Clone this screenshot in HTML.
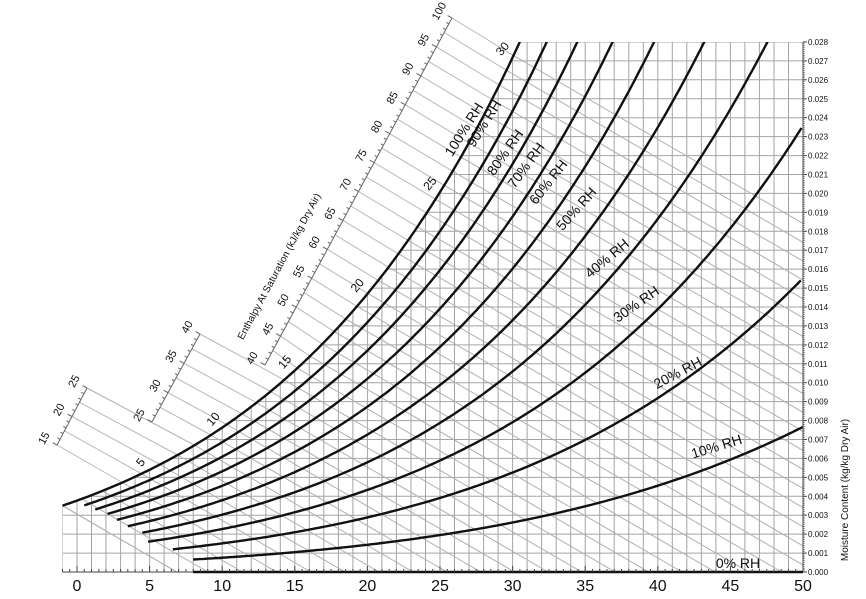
<!DOCTYPE html>
<html><head><meta charset="utf-8"><style>
html,body{margin:0;padding:0;background:#fff;}
svg{display:block;font-family:"Liberation Sans Narrow","Liberation Sans",sans-serif;}
</style></head><body>
<svg id="c" width="866" height="599" viewBox="0 0 866 599" xmlns="http://www.w3.org/2000/svg">
<defs><clipPath id="reg"><polygon id="regpoly" points="0,0"/></clipPath>
<clipPath id="top"><rect x="0" y="42" width="804" height="531"/></clipPath></defs>
<g id="grid" clip-path="url(#reg)" stroke="#a4a4a4" stroke-width="1" fill="none"></g>
<g id="hl" stroke="#b8b8b8" stroke-width="1" fill="none"></g>
<g id="hlin" clip-path="url(#reg)" stroke="#b0b0b0" stroke-width="1" fill="none"></g>
<g id="scales" stroke="#888" stroke-width="1" fill="none"></g>
<g id="rh" clip-path="url(#top)" stroke="#111" stroke-width="2.4" fill="none"></g>
<g id="axes" stroke="#444" stroke-width="1" fill="none"></g>
<g id="txt" fill="#111"></g>
</svg>
<script>
var NS="http://www.w3.org/2000/svg";
function X(T){return 77+14.52*T;}
function Y(w){return 572-18929*w;}
function ps(T){return 0.61078*Math.exp(17.27*T/(T+237.3));}
function wr(T,r){var p=r*ps(T);return 0.622*p/(101.325-p);}
function hs(T){var w=wr(T,1);return 1.006*T+w*(2501+1.86*T);}
function bis(f,v,a,b){for(var i=0;i<60;i++){var m=(a+b)/2;if(f(m)<v)a=m;else b=m;}return (a+b)/2;}
function el(g,tag,at,txt){var e=document.createElementNS(NS,tag);for(var k in at)e.setAttribute(k,at[k]);if(txt!==undefined)e.textContent=txt;document.getElementById(g).appendChild(e);return e;}
function line(g,x1,y1,x2,y2,extra){var a={x1:x1.toFixed(1),y1:y1.toFixed(1),x2:x2.toFixed(1),y2:y2.toFixed(1)};if(extra)for(var k in extra)a[k]=extra[k];return el(g,"line",a);}
var pts=[[X(-1),572]];var Tt=bis(function(t){return wr(t,1)},0.028,-1,50);
for(var T=-1;T<Tt;T+=0.25)pts.push([X(T),Y(wr(T,1))]);
pts.push([X(Tt),42]);pts.push([803,42]);pts.push([803,572]);
document.getElementById("regpoly").setAttribute("points",pts.map(function(p){return p[0].toFixed(1)+","+p[1].toFixed(1)}).join(" "));
for(var T=-1;T<=50;T++)line("grid",X(T),572,X(T),42);
for(var i=0;i<=28;i++){var w=i/1000;line("grid",X(-1),Y(w),803,Y(w));}
var SL=0.58;
function scalePt(h){
 if(h<=25&&h>=15){var t=(h-15)/10;return [57+30*t,445-57*t];}
 if(h>25&&h<=40){var t=(h-25)/15;return [152+48*t,422-88*t];}
 if(h>40){var t=(h-40)/60;return [265+187*t,365-347*t];}
 return null;}
function ext(x,y){var x2=803,y2=y+SL*(803-x);if(y2>572){y2=572;x2=x+(572-y)/SL;}return [x2,y2];}
for(var h=5;h<=100.01;h+=2.5){
 var Ts=bis(hs,h,-1,40);var px=X(Ts),py=Y(wr(Ts,1));
 var sp=scalePt(h);
 if(sp)line("hl",sp[0],sp[1],px,py);
 if(h===25){var s2=[87,388];line("hl",s2[0],s2[1],px,py);}
 var e=ext(px,py);line("hlin",px,py,e[0],e[1]);
}
function drawScale(h0,h1,labels){
 var a=scalePt(h0+0.001),b=scalePt(h1);if(h0===15){a=[57,445];b=[87,388];}
 if(h0===25)a=[152,422];
 line("scales",a[0],a[1],b[0],b[1],{stroke:"#666"});
 var dx=b[0]-a[0],dy=b[1]-a[1],L=Math.sqrt(dx*dx+dy*dy);var nx=dy/L,ny=-dx/L;
 if(nx>0){nx=-nx;ny=-ny;}
 var ang=Math.atan2(dy,dx)*180/Math.PI;
 for(var h=h0;h<=h1;h++){var t=(h-h0)/(h1-h0);var x=a[0]+dx*t,y=a[1]+dy*t;var len=(h%5===0)?5:3;
  line("scales",x,y,x+nx*len,y+ny*len,{stroke:"#666"});
  if(h%5===0&&labels.indexOf(h)>=0){var lx=x+nx*14,ly=y+ny*14;
   el("txt","text",{x:lx.toFixed(1),y:ly.toFixed(1),"font-size":"11","text-anchor":"middle","dominant-baseline":"middle",transform:"rotate("+ang.toFixed(1)+" "+lx.toFixed(1)+" "+ly.toFixed(1)+")"},String(h));}}
 return ang;}
drawScale(15,25,[15,20,25]);
drawScale(25,40,[25,30,35,40]);
var angC=drawScale(40,100,[40,45,50,55,60,65,70,75,80,85,90,95,100]);
el("txt","text",{x:"282",y:"268","font-size":"10","text-anchor":"middle",transform:"rotate("+angC.toFixed(1)+" 282 268)"},"Enthalpy At Saturation (kJ/kg Dry Air)");
var starts={1:-1,0.9:0.5,0.8:1.25,0.7:2.1,0.6:2.75,0.5:3.5,0.4:4.5,0.3:4.9,0.2:6.6,0.1:8.0};
[1,0.9,0.8,0.7,0.6,0.5,0.4,0.3,0.2,0.1].forEach(function(r){
 var d="";var T0=starts[r];for(var T=T0;T<=50.001;T+=0.25){var w=wr(T,r);var y=Y(w);d+=(d?"L":"M")+X(T).toFixed(1)+","+y.toFixed(1);if(y<42)break;}
 el("rh","path",{d:d});});
line("axes",193,572,803,572,{stroke:"#111","stroke-width":"2.4"});
line("axes",X(-1),572,193,572);
line("axes",803,42,803,572);
for(var T=-1;T<=50;T+=0.5)line("axes",X(T),572,X(T),T%5===0?566:569);
for(var i=0;i<=28;i++){var y=Y(i/1000);line("axes",803,y,807,y);
 el("txt","text",{x:"808",y:(y+3).toFixed(1),"font-size":"8"},(i/1000).toFixed(3));}
for(var i=0;i<280;i++){var y=Y(i/10000);line("axes",803,y,805,y,{"stroke-width":"0.5"});}
for(var T=0;T<=50;T+=5)el("txt","text",{x:X(T).toFixed(1),y:"591","font-size":"16","text-anchor":"middle"},String(T));
el("txt","text",{x:"848",y:"490","font-size":"10","text-anchor":"middle",transform:"rotate(-90 848 490)"},"Moisture Content (kg/kg Dry Air)");
var L=[["100% RH",468,132,-58],["90% RH",488,126,-58],["80% RH",509,155,-55],["70% RH",530,168,-54],["60% RH",552,185,-52],["50% RH",580,212,-48],["40% RH",610,262,-40],["30% RH",639,308,-35],["20% RH",680,377,-28],["10% RH",718,451,-17],["0% RH",738,568,0]];
L.forEach(function(a){el("txt","text",{x:a[1],y:a[2],"font-size":"14","text-anchor":"middle",transform:"rotate("+a[3]+" "+a[1]+" "+a[2]+")"},a[0]);});
[[5,-6,-5],[10,-6,-6],[15,-7,-6],[20,-7,-6],[25,-7,-6],[30,-7,-6]].forEach(function(a){
 var T=a[0];var x=X(T)+a[1],y=Y(wr(T,1))+a[2];
 el("txt","text",{x:x.toFixed(1),y:y.toFixed(1),"font-size":"12","text-anchor":"middle",transform:"rotate(-50 "+x.toFixed(1)+" "+y.toFixed(1)+")"},String(T));});
</script>
</body></html>
